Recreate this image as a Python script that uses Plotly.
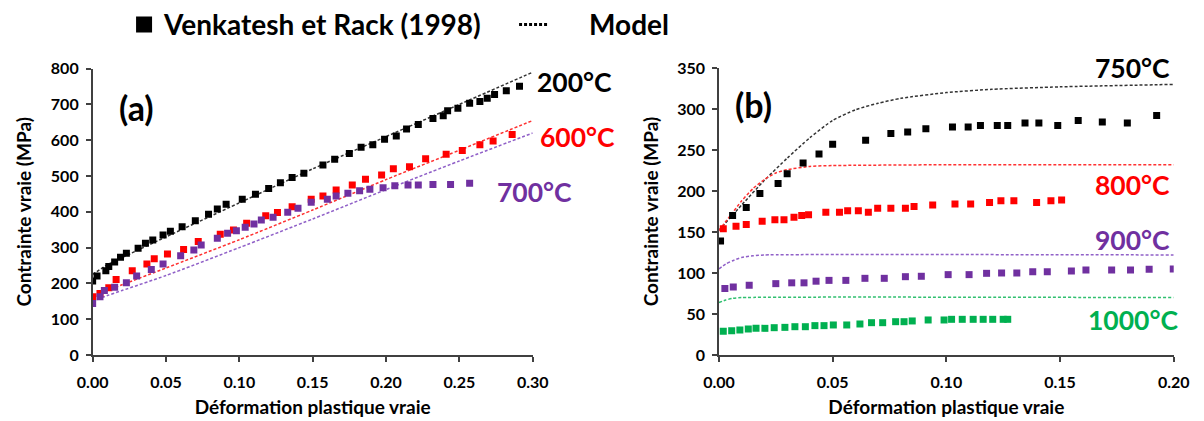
import plotly.graph_objects as go

# ---------- Panel (a) experimental data (Venkatesh et Rack 1998) ----------
a200_x = [0.000, 0.003, 0.009, 0.011, 0.015, 0.019, 0.023, 0.031, 0.036, 0.041, 0.048, 0.053, 0.061,
          0.070, 0.079, 0.085, 0.091, 0.102, 0.111, 0.120, 0.128, 0.136, 0.144, 0.157, 0.165, 0.175,
          0.183, 0.191, 0.199, 0.207, 0.214, 0.222, 0.232, 0.239, 0.242, 0.249, 0.257, 0.264, 0.269,
          0.274, 0.282, 0.291]
a200_y = [207, 221, 235, 247, 260, 273, 284, 298, 312, 321, 335, 346, 358,
          375, 393, 408, 421, 435, 449, 465, 481, 496, 508, 531, 547, 563,
          580, 587, 603, 612, 631, 644, 661, 668, 682, 689, 703, 708, 717,
          728, 738, 751]

a600_x = [0.000, 0.005, 0.011, 0.016, 0.027, 0.037, 0.042, 0.051, 0.062, 0.072, 0.087, 0.096, 0.105,
          0.118, 0.126, 0.136, 0.149, 0.157, 0.166, 0.177, 0.186, 0.197, 0.205, 0.216, 0.227, 0.241,
          0.252, 0.264, 0.273, 0.286]
a600_y = [163, 172, 188, 211, 235, 254, 269, 282, 295, 317, 337, 349, 368,
          389, 398, 414, 435, 444, 461, 475, 491, 503, 520, 526, 548, 561,
          571, 587, 598, 616]

a700_x = [0.000, 0.005, 0.008, 0.015, 0.023, 0.030, 0.040, 0.048, 0.060, 0.069, 0.074, 0.085, 0.092,
          0.098, 0.104, 0.110, 0.115, 0.123, 0.133, 0.140, 0.149, 0.160, 0.166, 0.174, 0.182, 0.189,
          0.198, 0.206, 0.215, 0.222, 0.232, 0.244, 0.257]
a700_y = [144, 163, 180, 189, 202, 221, 239, 254, 277, 293, 307, 326, 340,
          347, 357, 366, 377, 385, 399, 410, 427, 435, 444, 452, 459, 463,
          467, 473, 475, 475, 476, 476, 480]

# ---------- Panel (a) model ----------
ma_x = [0.00, 0.01, 0.02, 0.05, 0.10, 0.15, 0.20, 0.25, 0.30]
ma200_y = [225, 252, 272, 330, 425, 520, 610, 700, 790]
ma600_y = [160, 180, 196, 243, 322, 405, 490, 572, 655]
ma700_y = [150, 166, 180, 222, 300, 380, 462, 542, 620]

# ---------- Panel (b) experimental data ----------
b750_x = [0.0007, 0.006, 0.012, 0.018, 0.026, 0.030, 0.037, 0.044, 0.050, 0.0645, 0.0756, 0.083, 0.091,
          0.1027, 0.1096, 0.115, 0.1224, 0.127, 0.1346, 0.1407, 0.149, 0.158, 0.1686, 0.1796, 0.1925]
b750_y = [139, 170, 180, 197, 209, 221, 234, 245, 257, 262, 270, 272, 276,
          278, 278, 280, 280, 280, 283, 283, 280, 286, 284, 283, 292]

b800_x = [0.0019, 0.0075, 0.012, 0.019, 0.0246, 0.0286, 0.033, 0.0364, 0.0394, 0.047, 0.053, 0.0566,
          0.0613, 0.0657, 0.0698, 0.0756, 0.082, 0.0858, 0.094, 0.1038, 0.1107, 0.119, 0.124, 0.1297,
          0.1397, 0.146, 0.1507]
b800_y = [154, 157, 159, 163, 165, 165, 168, 170, 171, 174, 174, 176,
          176, 174, 179, 179, 179, 181, 183, 184, 184, 186, 188, 188,
          186, 188, 189]

b900_x = [0.0026, 0.0063, 0.0133, 0.025, 0.032, 0.0374, 0.0427, 0.0484, 0.0558, 0.0642, 0.0727, 0.082,
          0.089, 0.1008, 0.110, 0.1177, 0.1243, 0.131, 0.138, 0.1444, 0.155, 0.1614, 0.1727, 0.181,
          0.1892, 0.1998]
b900_y = [81, 83, 85, 87, 88, 88, 90, 91, 91, 93.5, 93.5, 95.5,
          96, 98, 98, 99.6, 100, 100, 101.6, 101.6, 102.4, 103.6, 103.6, 103.6,
          104.5, 105]

b1000_x = [0.0019, 0.0056, 0.0092, 0.0129, 0.0163, 0.0202, 0.0243, 0.029, 0.0334, 0.038, 0.0422, 0.0462,
           0.0503, 0.0562, 0.062, 0.0671, 0.072, 0.0777, 0.0814, 0.085, 0.092, 0.099, 0.1023, 0.107,
           0.1118, 0.1162, 0.1204, 0.125, 0.127]
b1000_y = [29, 29.7, 30.5, 31.7, 32.5, 32.5, 33.3, 33.7, 34.5, 34.5, 35.8, 35.8,
           36.6, 36.6, 37.8, 39.4, 39.4, 40.6, 40.6, 41.5, 42.7, 42.7, 43.5, 43.5,
           43.5, 43.5, 43.5, 43.5, 43.5]

# ---------- Panel (b) model ----------
mb750_x = [0.00, 0.01, 0.02, 0.03, 0.04, 0.05, 0.06, 0.07, 0.08, 0.10, 0.12, 0.15, 0.20]
mb750_y = [152, 183, 213, 240, 265, 286, 299, 307, 313, 320, 324, 327, 330]
mb800_x = [0.00, 0.005, 0.01, 0.015, 0.02, 0.025, 0.03, 0.04, 0.05, 0.10, 0.20]
mb800_y = [152, 170, 188, 203, 214, 222, 226, 230, 231, 232, 232]
mb900_x = [0.00, 0.003, 0.006, 0.01, 0.015, 0.02, 0.20]
mb900_y = [105, 111, 115, 119, 121, 122, 122]
mb1000_x = [0.00, 0.003, 0.006, 0.01, 0.20]
mb1000_y = [64, 67, 69, 70, 70]

xa_ticks = [0.00, 0.05, 0.10, 0.15, 0.20, 0.25, 0.30]
xb_ticks = [0.00, 0.05, 0.10, 0.15, 0.20]
ya_ticks = [0, 100, 200, 300, 400, 500, 600, 700, 800]
yb_ticks = [0, 50, 100, 150, 200, 250, 300, 350]

BLACK = "#000000"
RED = "#FF0000"
PURPLE = "#7030A0"
GREEN = "#00B050"
FONT = "Lato"

fig = go.Figure()

def data_trace(x, y, color, xa, ya):
    fig.add_trace(go.Scatter(x=x, y=y, mode="markers", xaxis=xa, yaxis=ya, showlegend=False,
                             marker=dict(symbol="square", size=7, color=color, line=dict(width=0))))

def model_trace(x, y, color, xa, ya):
    fig.add_trace(go.Scatter(x=x, y=y, mode="lines", xaxis=xa, yaxis=ya, showlegend=False,
                             line=dict(color=color, width=1.5, dash="3px,2px", shape="spline", smoothing=0.6)))

model_trace(ma_x, ma200_y, "#333333", "x", "y")
model_trace(ma_x, ma600_y, "#FF3030", "x", "y")
model_trace(ma_x, ma700_y, "#9060C8", "x", "y")
data_trace(a200_x, a200_y, BLACK, "x", "y")
data_trace(a600_x, a600_y, RED, "x", "y")
data_trace(a700_x, a700_y, PURPLE, "x", "y")

model_trace(mb750_x, mb750_y, "#333333", "x2", "y2")
model_trace(mb800_x, mb800_y, "#FF3030", "x2", "y2")
model_trace(mb900_x, mb900_y, "#9060C8", "x2", "y2")
model_trace(mb1000_x, mb1000_y, "#30C070", "x2", "y2")
data_trace(b750_x, b750_y, BLACK, "x2", "y2")
data_trace(b800_x, b800_y, RED, "x2", "y2")
data_trace(b900_x, b900_y, PURPLE, "x2", "y2")
data_trace(b1000_x, b1000_y, GREEN, "x2", "y2")

# legend-only entries
fig.add_trace(go.Scatter(x=[None], y=[None], mode="markers", name="Venkatesh et Rack (1998)",
                         marker=dict(symbol="square", size=16, color=BLACK)))
fig.add_trace(go.Scatter(x=[None], y=[None], mode="lines", name="\u2003\u2002Model",
                         line=dict(color=BLACK, width=3, dash="3px,2px")))

axis_common = dict(showgrid=False, zeroline=False, showline=True, linecolor="#404040", linewidth=1.5,
                   ticks="outside", ticklen=5, tickcolor="#404040", tickwidth=1.5, automargin=False,
                   tickfont=dict(family=FONT, size=16, color="#000000", weight="bold"))
title_font = dict(family=FONT, size=19, color="#000000", weight="bold")

fig.update_layout(
    width=1204, height=421, margin=dict(l=0, r=0, t=0, b=0, autoexpand=False),
    paper_bgcolor="white", plot_bgcolor="white",
    font=dict(family=FONT, color="#000000"),
    xaxis=dict(domain=[0.0703, 0.4358], range=[0, 0.30], tickvals=xa_ticks, tickformat=".2f",
               anchor="y", ticklabelstandoff=7,
               title=dict(text="Déformation plastique vraie", font=title_font, standoff=11),
               **axis_common),
    yaxis=dict(domain=[0.1758, 0.856], range=[0, 800], tickvals=ya_ticks, anchor="x",
               ticklabelstandoff=4,
               title=dict(text="Contrainte vraie (MPa)", font=title_font, standoff=14),
               **axis_common),
    xaxis2=dict(domain=[0.5905, 0.9682], range=[0, 0.20], tickvals=xb_ticks, tickformat=".2f",
                anchor="y2", ticklabelstandoff=7,
                title=dict(text="Déformation plastique vraie", font=title_font, standoff=11),
                **axis_common),
    yaxis2=dict(domain=[0.1758, 0.8575], range=[0, 350], tickvals=yb_ticks, anchor="x2",
                ticklabelstandoff=4,
                title=dict(text="Contrainte vraie (MPa)", font=title_font, standoff=14),
                **axis_common),
    legend=dict(orientation="h", x=0.0964, y=0.960, xanchor="left", yanchor="middle",
                entrywidth=345, entrywidthmode="pixels",
                font=dict(family=FONT, size=28, color="#000000", weight="bold"),
                bgcolor="rgba(0,0,0,0)"),
)

def label(text, x, y, color, size=26.5, xanchor="left"):
    fig.add_annotation(text=text, x=x, y=y, xref="paper", yref="paper", showarrow=False,
                       xanchor=xanchor, yanchor="middle",
                       font=dict(family=FONT, size=size, color=color, weight="bold"))

label("(a)", 0.0905, 0.7648, BLACK, size=34)
label("200°C", 0.4377, 0.8249, BLACK)
label("600°C", 0.4402, 0.6943, RED)
label("700°C", 0.4045, 0.5637, PURPLE)
label("(b)", 0.6022, 0.7696, BLACK, size=34)
label("750°C", 0.9668, 0.8575, BLACK, xanchor="right")
label("800°C", 0.9668, 0.5796, RED, xanchor="right")
label("900°C", 0.9668, 0.4489, PURPLE, xanchor="right")
label("1000°C", 0.9734, 0.2589, GREEN, xanchor="right")

fig.write_html("out.html")
